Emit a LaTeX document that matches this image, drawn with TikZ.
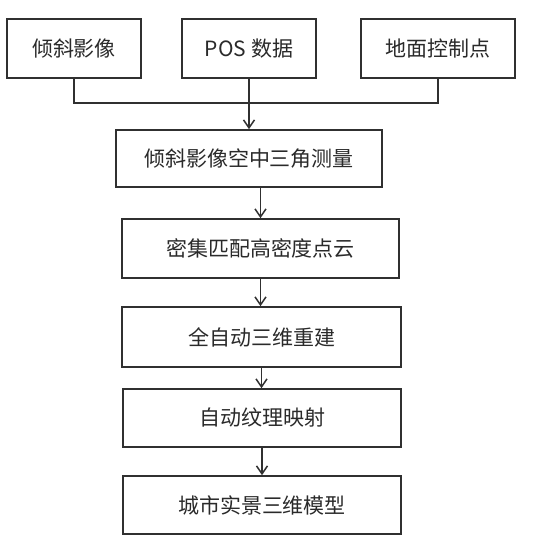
\documentclass[tikz,border=0pt]{standalone}
\usepackage{fontspec}
\setmainfont{Noto Sans CJK SC}
\usetikzlibrary{arrows.meta}
\definecolor{linec}{HTML}{303030}
\definecolor{textc}{HTML}{2A2A2A}
\begin{document}
\begin{tikzpicture}[x=1pt,y=-1pt,
  box/.style={draw=linec,line width=1.6pt,minimum width=#1,minimum height=59pt,inner sep=0pt,
    font=\fontsize{21}{24}\selectfont,text=textc},
  box/.default=134pt,
  conn/.style={draw=linec,line width=1.6pt},
  arr/.style={conn,-{Straight Barb[length=8pt,width=11pt,line width=1.5pt]}}]
\useasboundingbox (0,0) rectangle (547,546);
\fill[white] (0,0) rectangle (547,546);
\node[box=134pt] (b1) at (74,48.5) {倾斜影像};
\node[box=134pt] (b2) at (249,48.5) {POS 数据};
\node[box=154pt] (b3) at (438,48.5) {地面控制点};
\node[box=266pt,minimum height=57pt] (b4) at (249,158.5) {倾斜影像空中三角测量};
\node[box=277pt] (b5) at (260.5,248.5) {密集匹配高密度点云};
\node[box=279pt,minimum height=60pt] (b6) at (261.5,337) {全自动三维重建};
\node[box=278pt,minimum height=58pt] (b7) at (262,418) {自动纹理映射};
\node[box=278pt,minimum height=58pt] (b8) at (262,505) {城市实景三维模型};
\coordinate (j) at (249,103);
\draw[conn] (b1.south) |- (j) -| (b3.south);
\draw[arr] (b2.south) -- (b4.north);
\draw[arr] (b4.south -| b5.north) -- (b5.north);
\draw[arr] (b5.south) -- (b5.south |- b6.north);
\draw[arr] (b6.south) -- (b6.south |- b7.north);
\draw[arr] (b7.south) -- (b8.north);
\end{tikzpicture}
\end{document}
